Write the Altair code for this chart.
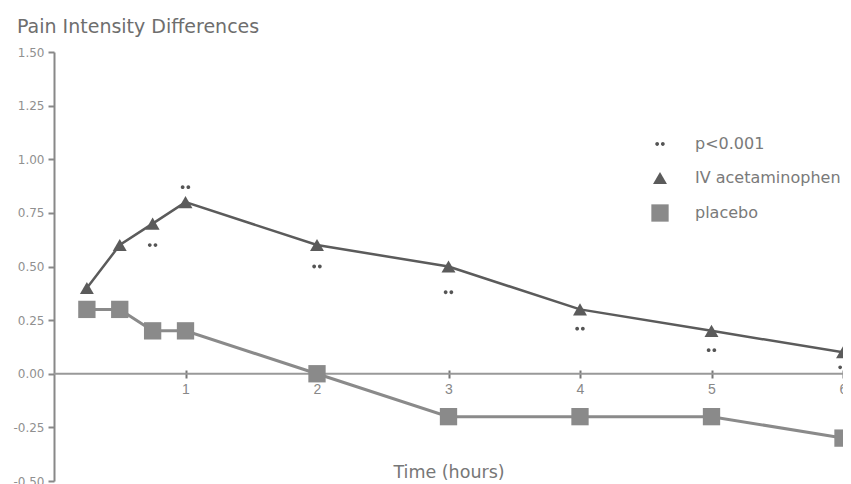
import altair as alt
import pandas as pd

# Data
times = [0.25, 0.5, 0.75, 1, 2, 3, 4, 5, 6]
iv_acetaminophen = [0.40, 0.60, 0.70, 0.80, 0.60, 0.50, 0.30, 0.20, 0.10]
placebo = [0.30, 0.30, 0.20, 0.20, 0.00, -0.20, -0.20, -0.20, -0.30]
sig_times = [0.75, 1, 2, 3, 4, 5, 6]
sig_y = [0.60, 0.87, 0.50, 0.38, 0.21, 0.11, 0.03]
series_names = ["p<0.001", "IV acetaminophen", "placebo"]
y_ticks = [-0.5, -0.25, 0, 0.25, 0.5, 0.75, 1.0, 1.25, 1.5]
x_ticks = [1, 2, 3, 4, 5, 6]

iv_df = pd.DataFrame({"time": times, "value": iv_acetaminophen, "series": "IV acetaminophen"})
pl_df = pd.DataFrame({"time": times, "value": placebo, "series": "placebo"})
sig_df = pd.DataFrame({"time": sig_times, "value": sig_y, "series": "p<0.001"})
pts_df = pd.concat([sig_df, iv_df, pl_df], ignore_index=True)

DOTS = ("M-0.2,0 A0.4,0.4 0 1,1 -1,0 A0.4,0.4 0 1,1 -0.2,0 Z "
        "M1,0 A0.4,0.4 0 1,1 0.2,0 A0.4,0.4 0 1,1 1,0 Z")

x_scale = alt.Scale(domain=[0, 6], nice=False, zero=False)
y_scale = alt.Scale(domain=[-0.5, 1.5], nice=False)

x_enc = alt.X("time:Q", scale=x_scale,
              axis=alt.Axis(values=x_ticks, format="d", offset=-111, domain=False, grid=False,
                            tickSize=8, tickWidth=2, tickColor="#777777",
                            labelFont="Liberation Sans", labelFontSize=14, labelColor="#888888",
                            labelPadding=4, labelFlush=False,
                            title="Time (hours)", titleFont="DejaVu Sans", titleFontSize=17.5,
                            titleFontWeight="normal", titleColor="#777777",
                            titleY=102, titleBaseline="middle"))
y_axis = alt.Axis(values=y_ticks, grid=False, title=None,
                  labelExpr="replace(format(datum.value, '.2f'), '\u2212', '-')",
                  domainColor="#888888", domainWidth=2, tickColor="#888888",
                  tickWidth=2, tickSize=6, labelFont="DejaVu Sans",
                  labelFontSize=12, labelColor="#909090", labelPadding=4)
y_enc = alt.Y("value:Q", scale=y_scale, axis=y_axis)

zero = alt.Chart(pd.DataFrame({"value": [0]})).mark_rule(color="#999999", strokeWidth=2).encode(
    y=y_enc)

line_iv = alt.Chart(iv_df).mark_line(color="#5b5b5b", strokeWidth=2.5).encode(x=x_enc, y=y_enc)
line_pl = alt.Chart(pl_df).mark_line(color="#8a8a8a", strokeWidth=3).encode(x=x_enc, y=y_enc)

legend = alt.Legend(title=None, orient="none", legendX=597, legendY=84, padding=0,
                    labelFont="DejaVu Sans", labelFontSize=16, labelColor="#7a7a7a",
                    labelOffset=26, rowPadding=18, symbolStrokeWidth=0)

points = alt.Chart(pts_df).mark_point(filled=True, opacity=1, strokeWidth=0).encode(
    x=x_enc,
    y=y_enc,
    shape=alt.Shape("series:N", scale=alt.Scale(domain=series_names,
                                                range=[DOTS, "triangle-up", "square"]),
                    legend=legend),
    color=alt.Color("series:N", scale=alt.Scale(domain=series_names,
                                                range=["#555555", "#5b5b5b", "#8a8a8a"]),
                    legend=legend),
    size=alt.Size("series:N", scale=alt.Scale(domain=series_names, range=[90, 300, 240]),
                  legend=legend),
)

chart = alt.layer(zero, line_iv, line_pl, points).properties(
    width=789, height=429,
    autosize=alt.AutoSizeParams(type="none"),
    padding={"left": 46, "top": 44, "right": 0, "bottom": 10},
    title=alt.TitleParams("Pain Intensity Differences", anchor="start", frame="group",
                          font="DejaVu Sans", fontSize=19, fontWeight="normal",
                          color="#6e6e6e", dx=-37, offset=9),
).configure_view(stroke=None)

chart.save("out.html", embed_options={"renderer": "svg", "actions": False})
